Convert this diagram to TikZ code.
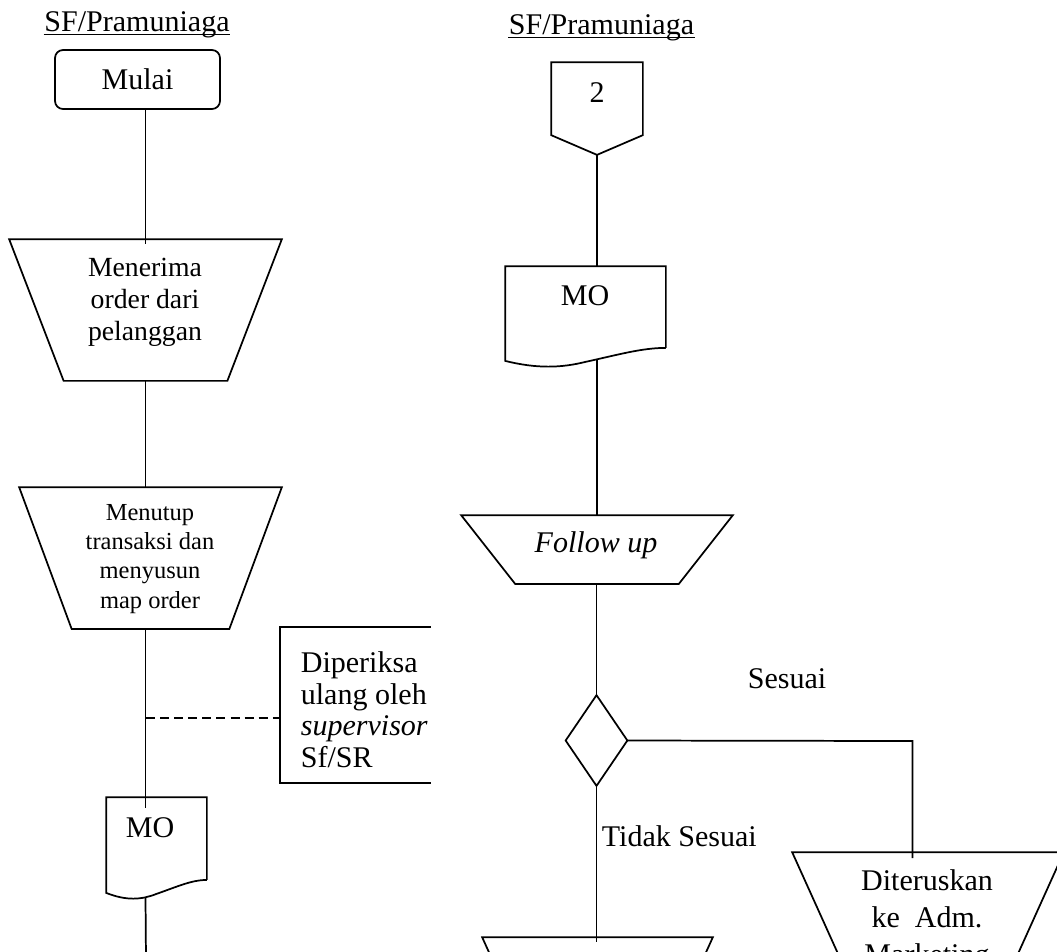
\documentclass[tikz,border=0pt]{standalone}
\usepackage{fontspec}
\setmainfont{Liberation Serif}
\usetikzlibrary{calc}

% one drawing unit = one pixel of the 1057 x 951 sheet
\def\px{0.4329pt}

% inverted trapezoid (manual operation) drawn over a sizing node
\newcommand\manualop[2]{%
  \draw (#1.north west) -- (#1.north east)
        -- ($(#1.south east)+(-#2,0)$) -- ($(#1.south west)+(#2,0)$) -- cycle;}

% document symbol with a wavy lower edge
\newcommand\docshape[1]{%
  \draw (#1.south east) -- (#1.north east) -- (#1.north west)
        -- ($(#1.south west)+(0,13)$)
        .. controls ($(#1.south west)!0.2!(#1.south east)+(0,21)$)
           and ($(#1.south west)!0.35!(#1.south east)+(0,20)$)
        .. ($(#1.south west)!0.5!(#1.south east)+(0,14)$)
        .. controls ($(#1.south west)!0.7!(#1.south east)+(0,7)$)
           and ($(#1.south west)!0.85!(#1.south east)$)
        .. (#1.south east);}

\begin{document}
\begin{tikzpicture}[x=\px, y=-\px, line width=0.75pt,
  sizer/.style 2 args={inner sep=0pt, minimum width=#1*\px, minimum height=#2*\px},
  txt/.style={inner sep=0pt, align=center, font=\fontsize{13}{15}\selectfont},
  smalltxt/.style={inner sep=0pt, align=center, font=\fontsize{12}{13.7}\selectfont},
  tinytxt/.style={inner sep=0pt, align=center, font=\fontsize{10.6}{12.6}\selectfont},
  notetxt/.style={inner sep=0pt, align=left, font=\fontsize{13}{13.6}\selectfont},
  widetxt/.style={inner sep=0pt, align=center, font=\fontsize{13}{16}\selectfont},
  flow/.style={draw, line width=0.75pt},
  guide/.style={draw, dash pattern=on 3.9pt off 2.2pt}
]
\useasboundingbox (0,0) rectangle (1057,951);
\fill[white] (0,0) rectangle (1057,951);
\clip (0,0) rectangle (1057,951);

% ---------------- left lane ----------------
\node[txt, anchor=base] (laneL) at (137,31) {SF/Pramuniaga};
\draw[line width=0.6pt] ($(laneL.base west)+(0,3.5)$) -- ($(laneL.base east)+(0,3.5)$);

\node[sizer={165}{59}, draw, rounded corners=3.5pt, txt] (mulai) at (137.5,79.5) {Mulai};

\node[sizer={271}{140}] (menerima) at (145.5,310) {};
\manualop{menerima}{54.5}
% multi-line text nodes sit on the baseline of their last line
\node[smalltxt, anchor=base] (menerimaT) at (145,340) {Menerima\\order dari\\pelanggan};

\node[sizer={261}{140}] (menutup) at (150.5,558) {};
\manualop{menutup}{52.5}
\node[tinytxt, anchor=base] (menutupT) at (150,608) {Menutup\\transaksi dan\\menyusun\\map order};

\node[sizer={99}{81}] (mo1) at (156.5,838.5) {};
\docshape{mo1}
\node[txt, anchor=base] (mo1T) at (150,837) {MO};

% note bracket with its dashed tie
\node[sizer={149}{154}] (note) at (355.5,705) {};
\draw (note.north east) -- (note.north west) -- (note.south west) -- (note.south east);
\node[notetxt, anchor=base west] (noteT) at (300,767)
  {Diperiksa\\ulang oleh\\\textit{supervisor}\\Sf/SR};
\coordinate (tie) at (146,718);
\draw[guide] (tie) -- (tie -| note.west);

% left lane connectors
\coordinate (endL) at (146,960);
\draw[flow] (menerima.north |- mulai.south) -- ($(menerima.north)+(0,5)$);
\draw[flow] (menerima.south) -- (menerima.south |- menutup.north);
\draw[flow] (menerima.south |- menutup.south) -- ($(menerima.south |- mo1.north)+(0,11)$);
\draw[flow] ($(menerima.south |- mo1.south)+(0,17.5)$) -- (endL);

% ---------------- right lane ----------------
\node[txt, anchor=base] (laneR) at (601.5,34) {SF/Pramuniaga};
\draw[line width=0.6pt] ($(laneR.base west)+(0,3.5)$) -- ($(laneR.base east)+(0,3.5)$);

\node[sizer={90}{91}] (conn2) at (597,108.5) {};
\draw (conn2.north west) -- (conn2.north east) -- ($(conn2.north east)+(0,73)$)
      -- (conn2.south) -- ($(conn2.north west)+(0,73)$) -- cycle;
\node[txt, anchor=base] (conn2T) at (597,102) {2};

\node[sizer={159}{80}] (mo2) at (585.5,307) {};
\docshape{mo2}
\node[txt, anchor=base] (mo2T) at (585,305) {MO};

\node[sizer={270}{67}] (followup) at (597,549.5) {};
\manualop{followup}{54}
\node[txt, anchor=base] (followupT) at (596,552) {\textit{Follow up}};

\node[sizer={60}{89}] (dec) at (596.5,740.5) {};
\draw (dec.north) -- (dec.east) -- (dec.south) -- (dec.west) -- cycle;

\node[sizer={270}{140}] (diter) at (928,923) {};
\manualop{diter}{64}
\node[widetxt, anchor=base] (diterT) at (927,964) {Diteruskan\\ke\ \ Adm.\\Marketing};

\node[sizer={229}{140}] (revise) at (597.5,1008) {};
\manualop{revise}{64}

\node[txt, anchor=base] (yes) at (787,688) {Sesuai};
\node[txt, anchor=base west] (no) at (601,846) {Tidak Sesuai};

% right lane connectors
\coordinate (drop) at (912.5,741);
\draw[flow] (conn2.south) -- (conn2.south |- mo2.north);
\draw[flow] ($(conn2.south |- mo2.south)+(0,11)$) -- (conn2.south |- followup.north);
\draw[flow] (followup.south -| dec.north) -- (dec.north);
\draw[flow] (dec.east) -- (drop) -- ($(drop |- diter.north)+(0,6)$);
\draw[flow] (dec.south) -- ($(dec.south |- revise.north)+(0,5)$);
\end{tikzpicture}
\end{document}
